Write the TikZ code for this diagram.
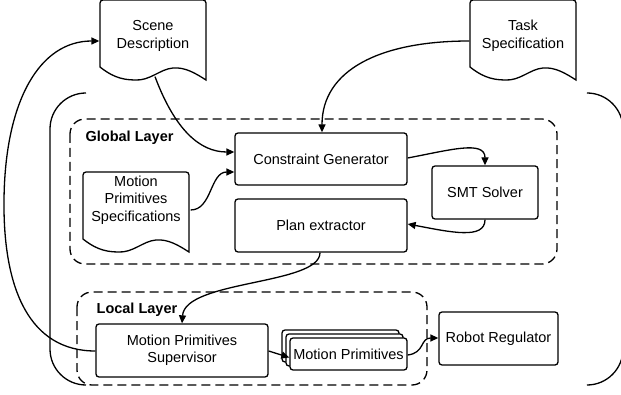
\documentclass[tikz,border=0pt]{standalone}
\usepackage{fontspec}
\setmainfont{Liberation Sans}
\usetikzlibrary{arrows.meta,calc}
\begin{document}
\begin{tikzpicture}[x=1pt,y=-1pt,line width=1.3pt,
  every node/.style={font=\fontsize{14.5}{17.5}\selectfont},
  box/.style={draw,rounded corners=3pt,fill=white,inner sep=0pt},
  txt/.style={align=center,inner sep=0pt},
  ttl/.style={font=\fontsize{14.5}{17.5}\selectfont\bfseries,anchor=west,inner sep=0pt},
  layer/.style={draw,dash pattern=on 9pt off 5pt,rounded corners=15pt},
  arr/.style={-{Triangle[length=8pt,width=7pt]}},
  doc/.pic={\draw[fill=white] (0,67) [rounded corners=3pt]-- (0,0) -- (106,0) [sharp corners]-- (106,80)
      .. controls (95,73) and (85,67) .. (73,68)
      .. controls (60,69) and (50,81) .. (35,80)
      .. controls (20,80) and (10,75) .. (0,67) -- cycle;}
]
\useasboundingbox (0,0) rectangle (621,395);

% outer brackets
\draw[rounded corners=36pt] (86,93) -- (50,93) -- (50,385) -- (86,385);
\draw[rounded corners=36pt] (588,93) -- (623,93) -- (623,385) -- (588,385);

% layers
\draw[layer] (70,119) rectangle (557,264);
\node[ttl] (gl) at (85,138) {Global Layer};
\draw[layer] (77,292) rectangle (427,385);
\node[ttl] (ll) at (96,310) {Local Layer};

% documents
\pic at (100,0) {doc};
\node[inner sep=0pt,minimum width=106pt,minimum height=80pt] (scene) at (153,40) {};
\node[txt] (scenet) at (153,36) {Scene\\Description};
\pic at (470,0) {doc};
\node[inner sep=0pt,minimum width=106pt,minimum height=80pt] (task) at (523,40) {};
\node[txt] (taskt) at (523,36) {Task\\Specification};
\pic at (83,172) {doc};
\node[inner sep=0pt,minimum width=106pt,minimum height=80pt] (mps) at (136,212) {};
\node[txt] (mpst) at (136,200) {Motion\\Primitives\\Specifications};

% boxes
\node[box,minimum width=172pt,minimum height=52pt,align=center] (cg) at (321,159) {Constraint Generator};
\node[box,minimum width=106pt,minimum height=53pt] (smt) at (485,192.5) {SMT Solver};
\node[box,minimum width=172pt,minimum height=53pt] (pe) at (321,225.5) {Plan extractor};
\node[box,minimum width=172pt,minimum height=53pt,align=center] (sup) at (182,350.5) {Motion Primitives\\Supervisor};
\node[box,minimum width=117pt,minimum height=32pt] (mp2) at (340.5,346) {};
\node[box,minimum width=117pt,minimum height=32pt] (mp1) at (344.5,350) {};
\node[box,minimum width=117pt,minimum height=32pt] (mp) at (348.5,354) {Motion Primitives};
\node[box,minimum width=119pt,minimum height=53pt] (rr) at (498.5,338.5) {Robot Regulator};

% connectors
\draw[arr] ([yshift=-0.5pt]sup.west) .. controls (30,351) and (3,290) .. (4,200)
   .. controls (5,100) and (40,41) .. ([yshift=-1pt]scene.west);
\draw[arr] ([xshift=2pt,yshift=4pt]scene.south) .. controls (175,130) and (200,152) .. ([yshift=7pt]cg.west);
\draw[arr] ([yshift=-1pt]task.west) .. controls (380,41) and (322,70) .. ([xshift=1pt]cg.north);
\draw[arr] ([xshift=1pt,yshift=2pt]mps.east) .. controls (212,210) and (210,172) .. ([yshift=-13pt]cg.west);
\draw[arr] ([yshift=1pt]cg.east) .. controls (450,150) and (485,140) .. (smt.north);
\draw[arr] (smt.south) .. controls (485,240) and (450,232) .. ([yshift=1.5pt]pe.east);
\draw[arr] ([xshift=-1pt]pe.south) .. controls (320,285) and (185,280) .. (sup.north);
\draw[arr] ([yshift=-0.5pt]sup.east) -- ([yshift=-3.5pt]mp.west);
\draw[arr] ([yshift=-1pt]mp.east) .. controls (425,353) and (420,338) .. ([yshift=0.5pt]rr.west);
\end{tikzpicture}
\end{document}
